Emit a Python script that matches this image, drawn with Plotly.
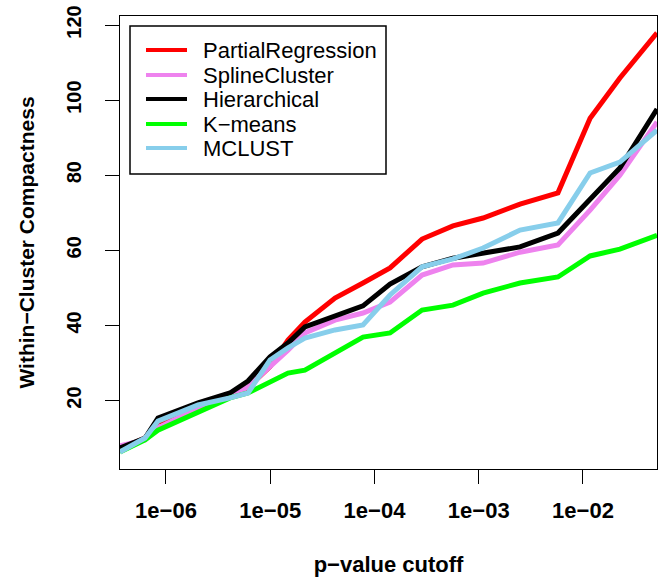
import plotly.graph_objects as go

# p-value cutoffs (log-spaced, as evaluated)
p_cutoff = [3.62e-7, 6.30e-7, 8.38e-7, 2.03e-6, 4.11e-6, 6.12e-6, 9.95e-6,
            1.48e-5, 2.15e-5, 4.18e-5, 7.76e-5, 1.41e-4, 2.86e-4, 5.66e-4,
            1.10e-3, 2.49e-3, 5.75e-3, 1.17e-2, 2.26e-2, 5.13e-2]

partial_regression = [7.1, 10.0, 14.2, 17.5, 21.3, 23.5, 29.0, 36.1, 40.9, 47.3,
                      51.3, 55.3, 63.0, 66.5, 68.6, 72.3, 75.3, 95.2, 105.9, 117.9]
spline_cluster = [7.9, 9.5, 12.7, 18.0, 21.2, 23.6, 29.0, 33.4, 38.0, 41.4,
                  43.3, 46.2, 53.4, 56.1, 56.6, 59.5, 61.4, 70.7, 80.0, 94.2]
hierarchical = [7.4, 10.0, 15.3, 19.4, 22.0, 25.2, 31.6, 35.3, 39.6, 42.5,
                45.2, 51.0, 55.6, 57.9, 59.3, 60.9, 64.6, 73.6, 81.9, 97.6]
k_means = [6.3, 9.5, 12.1, 16.7, 20.7, 22.0, 24.9, 27.3, 28.1, 32.6,
           36.9, 38.0, 44.1, 45.4, 48.6, 51.3, 52.9, 58.5, 60.3, 64.0]
mclust = [6.3, 10.0, 14.5, 18.8, 20.7, 22.0, 30.8, 34.0, 36.6, 38.8,
          40.1, 48.1, 55.6, 57.7, 60.6, 65.4, 67.3, 80.6, 83.5, 92.0]

series_names = ["PartialRegression", "SplineCluster", "Hierarchical", "K\u2212means", "MCLUST"]
series_values = [partial_regression, spline_cluster, hierarchical, k_means, mclust]
series_colors = ["#FF0000", "#EE82EE", "#000000", "#00FF00", "#87CEEB"]

x_tick_vals = [1e-6, 1e-5, 1e-4, 1e-3, 1e-2]
x_tick_text = ["1e\u221206", "1e\u221205", "1e\u221204", "1e\u221203", "1e\u221202"]
y_tick_vals = [20, 40, 60, 80, 100, 120]
y_tick_text = ["20", "40", "60", "80", "100", "120"]

W, H = 658, 580
L, R, T, B = 120, 1, 16, 111
PW, PH = W - L - R, H - T - B

def px(xp):
    return (xp - L) / PW

def py(yp):
    return (H - B - yp) / PH

fig = go.Figure()
for name, vals, col in zip(series_names, series_values, series_colors):
    fig.add_trace(go.Scatter(x=p_cutoff, y=vals, mode="lines", name=name,
                             line=dict(color=col, width=5), showlegend=False))

axis_font = dict(family="Liberation Sans", size=22, color="#000000", weight="bold")

fig.update_layout(
    width=W, height=H,
    margin=dict(l=L, r=R, t=T, b=B),
    paper_bgcolor="white", plot_bgcolor="white",
    xaxis=dict(type="log", range=[-6.441, -1.290],
               tickvals=x_tick_vals, ticktext=x_tick_text,
               ticks="outside", ticklen=14, tickwidth=1, tickcolor="#000000",
               showline=True, mirror=True, linecolor="#000000", linewidth=1,
               showgrid=False, zeroline=False, tickfont=axis_font,
               ticklabelstandoff=8,
               title=dict(text="p\u2212value cutoff", font=axis_font, standoff=34)),
    yaxis=dict(range=[1.76, 122.4],
               tickvals=y_tick_vals, ticktext=y_tick_text, tickangle=-90,
               ticks="outside", ticklen=14, tickwidth=1, tickcolor="#000000",
               showline=True, mirror=True, linecolor="#000000", linewidth=1,
               showgrid=False, zeroline=False,
               tickfont=dict(family="Liberation Sans", size=20, color="#000000", weight="bold"),
               ticklabelstandoff=16,
               title=dict(text="Within\u2212Cluster Compactness", font=dict(family="Liberation Sans", size=21, color="#000000", weight="bold"), standoff=22)),
)

# legend box drawn in paper coordinates
shapes = [dict(type="rect", xref="paper", yref="paper",
               x0=px(130), x1=px(386), y0=py(174), y1=py(26),
               line=dict(color="#000000", width=1.5), fillcolor="white", layer="above")]
annotations = []
row_y = [50, 75, 99, 124, 148]
for name, col, yy in zip(series_names, series_colors, row_y):
    shapes.append(dict(type="line", xref="paper", yref="paper",
                       x0=px(146), x1=px(187), y0=py(yy), y1=py(yy),
                       line=dict(color=col, width=4), layer="above"))
    annotations.append(dict(xref="paper", yref="paper", x=px(201), y=py(yy),
                            text=name, showarrow=False, xanchor="left", yanchor="middle",
                            font=dict(family="Liberation Sans", size=22, color="#000000")))
fig.update_layout(shapes=shapes, annotations=annotations)

fig.write_html("out.html")
